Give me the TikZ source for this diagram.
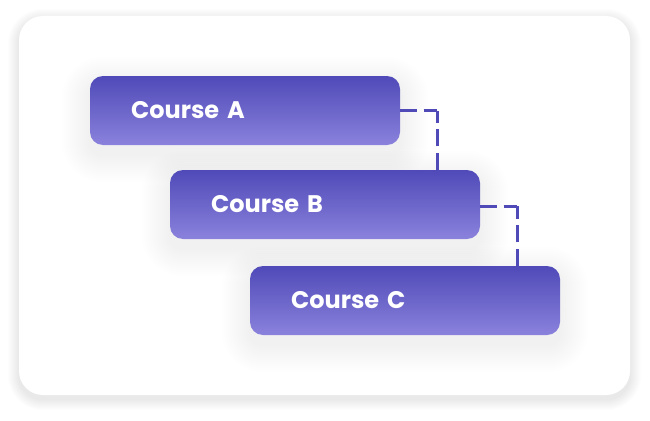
\documentclass[tikz,border=0pt]{standalone}
\usepackage{fontspec}
\setmainfont{Poppins}
\definecolor{cdark}{HTML}{4F4AB8}
\definecolor{clight}{HTML}{8A82DC}
\definecolor{cline}{HTML}{4F4AB8}
\tikzset{
  card/.style={fill=white, rounded corners=24pt, minimum width=611pt, minimum height=379pt, inner sep=0pt},
  course/.style={top color=cdark, bottom color=clight, rounded corners=13pt,
    minimum width=310pt, minimum height=69pt, text width=228pt, inner xsep=41pt, inner ysep=0pt,
    align=left, text=white, font=\fontsize{24}{30}\selectfont\bfseries},
  conn/.style={draw=cline, line width=3pt, dash pattern=on 17pt off 6.5pt},
  shadelayer/.style={fill=black, opacity=#1}
}
\newcommand\myshade[6]{% node, steps, step, opacity, yoffset, base radius
  \foreach \k in {1,...,#2}{%
    \pgfmathsetmacro\dd{\k*#3}%
    \pgfmathsetmacro\rr{#6+\dd}%
    \fill[shadelayer=#4, rounded corners=\rr pt]
      ([shift={(-\dd,\dd+#5)}]#1.south west) rectangle ([shift={(\dd,-\dd+#5)}]#1.north east);
  }%
}
\begin{document}
\begin{tikzpicture}[x=1pt,y=-1pt]
\useasboundingbox (0,0) rectangle (650,420);
\path (324.5,205.5) node[minimum width=611pt, minimum height=379pt, inner sep=0pt] (cardbox) {};
\myshade{cardbox}{11}{1}{0.0065}{4}{24}
\node[card] (card) at (324.5,205.5) {};
\path (245,110.5) node[minimum width=310pt, minimum height=69pt, inner sep=0pt] (sA) {};
\myshade{sA}{14}{2}{0.004}{9}{13}
\node[course] (A) at (245,110.5) {Course A};
\path (325,204.5) node[minimum width=310pt, minimum height=69pt, inner sep=0pt] (sB) {};
\myshade{sB}{14}{2}{0.004}{9}{13}
\node[course] (B) at (325,204.5) {Course B};
\path (405,300.5) node[minimum width=310pt, minimum height=69pt, inner sep=0pt] (sC) {};
\myshade{sC}{14}{2}{0.004}{9}{13}
\node[course] (C) at (405,300.5) {Course C};
\coordinate (c1) at (437,110.5);
\coordinate (c2) at (517,206);
\draw[conn] (A.east) -- (c1);
\draw[conn] (c1 |- B.north) -- (c1);
\draw[conn] (B.east |- c2) -- (c2);
\draw[conn] (c2 |- C.north) -- (c2);
\end{tikzpicture}
\end{document}
